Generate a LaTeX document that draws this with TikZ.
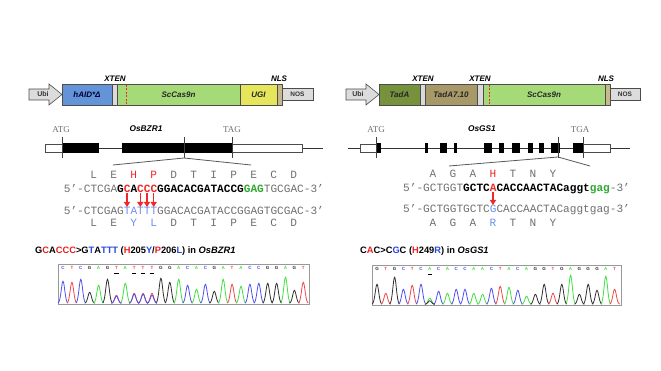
\documentclass[tikz,border=0pt]{standalone}
\usepackage{fontspec}
\setmainfont{Liberation Serif}
\setsansfont{Liberation Sans}
\newfontfamily\seqfont{Liberation Mono}
\usetikzlibrary{arrows.meta}
\definecolor{aidblue}{HTML}{6394D8}
\definecolor{casgreen}{HTML}{A6DA78}
\definecolor{ugiyellow}{HTML}{E6E65C}
\definecolor{tadagreen}{HTML}{76923C}
\definecolor{tadatan}{HTML}{A89A68}
\definecolor{nlstan}{HTML}{C8B98C}
\definecolor{xtengray}{HTML}{DADADA}
\definecolor{nosgray}{HTML}{DCDCDC}
\definecolor{mutred}{HTML}{F02828}
\definecolor{mutblue}{HTML}{6A90F0}
\definecolor{seqgreen}{HTML}{2EA82E}
\definecolor{seqgray}{HTML}{707070}
\definecolor{capred}{HTML}{E82020}
\definecolor{capblue}{HTML}{2848E0}
\definecolor{baseA}{HTML}{40E040}
\definecolor{baseC}{HTML}{5050F0}
\definecolor{baseG}{HTML}{303030}
\definecolor{baseT}{HTML}{F04848}
\begin{document}
\begin{tikzpicture}[x=1pt,y=-1pt,
  partbox/.style={draw=black!70, line width=0.6pt, minimum height=21pt, inner sep=0pt, outer sep=0pt, anchor=west, font=\sffamily\bfseries\itshape\fontsize{8}{9}\selectfont, text=black!85},
  noslbl/.style={draw=black!70, line width=0.6pt, fill=nosgray, minimum height=12pt, inner sep=0pt, outer sep=0pt, anchor=west, font=\sffamily\bfseries\fontsize{6.5}{7}\selectfont, text=black!80},
  toplbl/.style={font=\sffamily\bfseries\itshape\fontsize{8}{9}\selectfont, inner sep=0pt},
  ubiarrow/.style={draw=black!70, line width=0.6pt, fill=nosgray},
  ubitext/.style={font=\sffamily\bfseries\fontsize{7}{8}\selectfont, text=black!80, inner sep=0pt},
  genelbl/.style={font=\fontsize{9}{10}\selectfont, text=seqgray, inner sep=0pt},
  genename/.style={font=\sffamily\bfseries\itshape\fontsize{8.3}{9}\selectfont, inner sep=0pt},
  seqtext/.style={font=\seqfont\fontsize{11.11}{12}\selectfont, text=seqgray, inner sep=0pt, anchor=base west},
  aminoacid/.style={font=\seqfont\fontsize{11.11}{12}\selectfont, text=seqgray, inner sep=0pt},
  mutarrow/.style={mutred, line width=1.3pt, -{Triangle[length=5pt,width=6pt]}},
  captext/.style={font=\sffamily\bfseries\fontsize{9.3}{10}\selectfont, inner sep=0pt, anchor=base west},
  blet/.style={font=\sffamily\bfseries\fontsize{4.5}{5}\selectfont, inner sep=0pt},
  chrbox/.style={draw=black!40, line width=0.8pt, fill=white},
  exonbox/.style={fill=black},
  utrbox/.style={draw=black!70, fill=white, line width=0.5pt},
  geneline/.style={black!80, line width=0.8pt},
  genetick/.style={black!75, line width=0.8pt},
  zoomline/.style={black!65, line width=0.8pt},
  dashcut/.style={mutred, line width=1pt, dash pattern=on 2pt off 1.5pt},
  peak/.style={line width=0.8pt}
]
\useasboundingbox[fill=white] (0,0) rectangle (661,371);

%%%%%%%%%%%%%%%% LEFT CONSTRUCT
\draw[ubiarrow] (29,89)--(49,89)--(49,84)--(62,94.5)--(49,105)--(49,100)--(29,100)--cycle;
\node[ubitext] (ubiL) at (43,94.5) {Ubi};
\node[partbox, fill=aidblue, minimum width=50pt, text=black!80!blue] (aid) at (62,94.5) {hAID*Δ};
\node[partbox, fill=xtengray, minimum width=5pt] (xtL) at (112,94.5) {};
\node[partbox, fill=casgreen, minimum width=123pt] (casL) at (117,94.5) {ScCas9n};
\node[partbox, fill=ugiyellow, minimum width=37pt] (ugi) at (240,94.5) {UGI};
\node[partbox, fill=nlstan, minimum width=5pt] (nlsL) at (277,94.5) {};
\node[noslbl, minimum width=31pt] (nosL) at (282,94.5) {NOS};
\draw[dashcut] (126,85) -- (126,104);
\node[toplbl] (xtenL) at (115,79) {XTEN};
\node[toplbl] (nlsLt) at (279,79) {NLS};

%%%%%%%%%%%%%%%% RIGHT CONSTRUCT
\draw[ubiarrow] (346,89)--(366,89)--(366,84)--(379,94.5)--(366,105)--(366,100)--(346,100)--cycle;
\node[ubitext] (ubiR) at (358,94.5) {Ubi};
\node[partbox, fill=tadagreen, minimum width=41pt] (tada) at (379,94.5) {TadA};
\node[partbox, fill=xtengray, minimum width=5pt] (xtR1) at (420,94.5) {};
\node[partbox, fill=tadatan, minimum width=52pt] (tada7) at (425,94.5) {TadA7.10};
\node[partbox, fill=xtengray, minimum width=6pt] (xtR2) at (477,94.5) {};
\node[partbox, fill=casgreen, minimum width=122pt] (casR) at (483,94.5) {ScCas9n};
\node[partbox, fill=nlstan, minimum width=5pt] (nlsR) at (605,94.5) {};
\node[noslbl, minimum width=30pt] (nosR) at (610,94.5) {NOS};
\draw[dashcut] (489,85) -- (489,104);
\node[toplbl] (xtenR1) at (423,79) {XTEN};
\node[toplbl] (xtenR2) at (480,79) {XTEN};
\node[toplbl] (nlsRt) at (606,79) {NLS};

%%%%%%%%%%%%%%%% LEFT GENE
\draw[geneline] (45,148) -- (323,148);
\draw[utrbox] (45,144) rectangle (62,152);
\fill[exonbox] (62,143) rectangle (99,153);
\fill[exonbox] (122,143) rectangle (232,153);
\draw[utrbox] (232,144) rectangle (302,152);
\draw[genetick] (62,137) -- (62,158);
\draw[genetick] (184,137) -- (184,158);
\draw[genetick] (232,137) -- (232,158);
\coordinate (zL) at (184,158);
\coordinate (zLa) at (113,165);
\coordinate (zLb) at (251,165);
\draw[zoomline] (zLa) -- (zL) -- (zLb);
\node[genelbl] (atgL) at (61,130) {ATG};
\node[genename] (bzr) at (146,129) {OsBZR1};
\node[genelbl] (tagL) at (232,130) {TAG};

%%%%%%%%%%%%%%%% RIGHT GENE
\draw[geneline] (348,148) -- (630,148);
\draw[utrbox] (360,144) rectangle (376,152);
\foreach \a/\b in {376/381,425/427.5,440/447,454/456.5,484/492,499/504,512/520,528/533,539/544,551/560,573/583}
  \fill[exonbox] (\a,143) rectangle (\b,153);
\draw[utrbox] (583,144) rectangle (610,152);
\draw[genetick] (376,137) -- (376,158);
\draw[genetick] (558,137) -- (558,158);
\draw[genetick] (583,137) -- (583,158);
\coordinate (zR) at (558,157);
\coordinate (zRa) at (449,166);
\coordinate (zRb) at (590,166);
\draw[zoomline] (zRa) -- (zR) -- (zRb);
\node[genelbl] (atgR) at (376,130) {ATG};
\node[genename] (gs1) at (482,129) {OsGS1};
\node[genelbl] (tgaR) at (580,130) {TGA};

%%%%%%%%%%%%%%%% LEFT SEQUENCES
\foreach \a/\c [count=\i from 0] in {L/seqgray,E/seqgray,H/mutred,P/mutred,D/seqgray,T/seqgray,I/seqgray,P/seqgray,E/seqgray,C/seqgray,D/seqgray}
  \node[aminoacid, text=\c] (aaL\i) at ({93.67+20*\i},175) {\a};
\node[seqtext] (seqL1) at (63.67,192.3) {5’-CTCGA\textbf{\textcolor{black}{G\textcolor{mutred}{C}A\textcolor{mutred}{CCC}GGACACGATACCG}\textcolor{seqgreen}{GAG}}TGCGAC-3’};
\node[seqtext] (seqL2) at (63.67,215) {5’-CTCGAG\textcolor{mutblue}{TATTT}GGACACGATACCGGAGTGCGAC-3’};
\foreach \a/\c [count=\i from 0] in {L/seqgray,E/seqgray,Y/mutblue,L/mutblue,D/seqgray,T/seqgray,I/seqgray,P/seqgray,E/seqgray,C/seqgray,D/seqgray}
  \node[aminoacid, text=\c] (aaM\i) at ({93.67+20*\i},222.5) {\a};
\foreach \xx [count=\i] in {127,140.3,147,153.7}{
  \coordinate (ma\i) at (\xx,193.5);
  \coordinate (mb\i) at (\xx,207);
  \draw[mutarrow] (ma\i) -- (mb\i);
}

%%%%%%%%%%%%%%%% RIGHT SEQUENCES
\foreach \a/\c [count=\i from 0] in {A/seqgray,G/seqgray,A/seqgray,H/mutred,T/seqgray,N/seqgray,Y/seqgray}
  \node[aminoacid, text=\c] (aaR\i) at ({433+20*\i},174) {\a};
\node[seqtext] (seqR1) at (403,191.3) {5’-GCTGGT\textbf{\textcolor{black}{GCTC\textcolor{mutred}{A}CACCAACTACaggt}\textcolor{seqgreen}{gag}}-3’};
\node[seqtext] (seqR2) at (403,212.6) {5’-GCTGGTGCTC\textcolor{mutblue}{G}CACCAACTACaggtgag-3’};
\foreach \a/\c [count=\i from 0] in {A/seqgray,G/seqgray,A/seqgray,R/mutblue,T/seqgray,N/seqgray,Y/seqgray}
  \node[aminoacid, text=\c] (aaS\i) at ({433+20*\i},222.5) {\a};
\coordinate (mra) at (493,192.5);
\coordinate (mrb) at (493,205);
\draw[mutarrow] (mra) -- (mrb);

%%%%%%%%%%%%%%%% CAPTIONS
\node[captext] (capL) at (35,253.3) {G\textcolor{capred}{C}A\textcolor{capred}{CCC}>G\textcolor{capblue}{T}A\textcolor{capblue}{TTT} (\textcolor{capred}{H}205\textcolor{capblue}{Y}/\textcolor{capred}{P}206\textcolor{capblue}{L}) in \textit{OsBZR1}};
\node[captext] (capR) at (360,253.3) {C\textcolor{capred}{A}C>C\textcolor{capblue}{G}C (\textcolor{capred}{H}249\textcolor{capblue}{R}) in \textit{OsGS1}};

%%%%%%%%%%%%%%%% LEFT CHROMATOGRAM
\draw[chrbox] (58,264) rectangle (309,304);
\foreach \b/\h [count=\i from 0] in {C/22,T/21,C/24,G/11,A/18,G/24,T/8,A/20,T/10,T/10,T/10,G/25,G/21,A/24,C/18,A/14,C/19,G/12,A/24,T/19,A/17,C/19,C/20,G/20,G/20,A/26,G/13,T/21}{
  \pgfmathsetmacro\xx{63+8.9*\i}
  \draw[peak, color=base\b] plot[domain=-5:5, samples=21, smooth] ({\xx+\x},{303.3-\h*exp(-((\x)*(\x))/6)});
  \node[blet, text=base\b] (chL\i) at (\xx,267.8) {\b};
}
\foreach \i/\h in {6/7,8/9,9/9,10/8}{
  \pgfmathsetmacro\xx{63+8.9*\i}
  \draw[peak, color=baseC] plot[domain=-5:5, samples=21, smooth] ({\xx+\x},{303.3-\h*exp(-((\x)*(\x))/6)});
}
\foreach \i in {6,8,9,10}{
  \draw[black, line width=0.9pt] ({63+8.9*\i-2.2},273) -- ({63+8.9*\i+2.2},273);
}

%%%%%%%%%%%%%%%% RIGHT CHROMATOGRAM
\draw[chrbox] (372,265) rectangle (621,305);
\foreach \b/\h [count=\i from 0] in {G/20,T/11,G/27,C/15,T/19,C/20,A/6,C/13,A/11,C/15,C/15,A/11,A/10,C/16,T/18,A/17,C/14,A/8,G/10,G/20,T/11,G/20,A/29,G/10,G/20,G/14,A/28,T/15}{
  \pgfmathsetmacro\xx{377+8.8*\i}
  \draw[peak, color=base\b] plot[domain=-5:5, samples=21, smooth] ({\xx+\x},{304.3-\h*exp(-((\x)*(\x))/6)});
  \node[blet, text=base\b] (chR\i) at (\xx,268.8) {\b};
}
\draw[peak, color=baseG] plot[domain=-5:5, samples=21, smooth] ({429.8+\x},{304.3-3.5*exp(-((\x)*(\x))/6)});
\draw[black, line width=0.9pt] (427.6,274) -- (432,274);
\end{tikzpicture}
\end{document}
